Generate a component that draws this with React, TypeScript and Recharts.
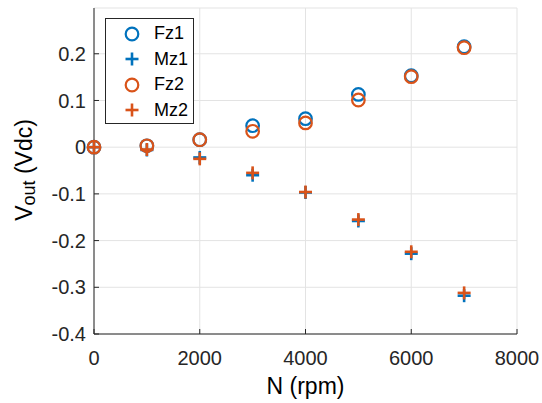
import React from "react";
import {
  ScatterChart,
  Scatter,
  XAxis,
  YAxis,
  CartesianGrid,
  Legend,
} from "recharts";

const rpm = [0, 1000, 2000, 3000, 4000, 5000, 6000, 7000];
const fz1 = [0, 0.003, 0.016, 0.046, 0.061, 0.113, 0.153, 0.215];
const mz1 = [0, -0.006, -0.022, -0.06, -0.097, -0.158, -0.228, -0.318];
const fz2 = [0, 0.003, 0.016, 0.034, 0.052, 0.101, 0.151, 0.213];
const mz2 = [0, -0.005, -0.025, -0.055, -0.096, -0.155, -0.224, -0.312];

const xTicks = [0, 2000, 4000, 6000, 8000];
const yTicks = [-0.4, -0.3, -0.2, -0.1, 0, 0.1, 0.2];

const BLUE = "#0072BD";
const ORANGE = "#D95319";
const AXIS = "#262626";
const FONT = "'Liberation Sans', Arial, Helvetica, sans-serif";

const toPoints = (ys: number[]) => rpm.map((x, i) => ({ x, y: ys[i] }));

// all axes share one domain, so binding series to the box axes keeps them drawn
const series = [
  { name: "Fz1", data: toPoints(fz1), color: BLUE, kind: "circle", xId: "top", yId: "main" },
  { name: "Mz1", data: toPoints(mz1), color: BLUE, kind: "plus", xId: "main", yId: "right" },
  { name: "Fz2", data: toPoints(fz2), color: ORANGE, kind: "circle", xId: "main", yId: "main" },
  { name: "Mz2", data: toPoints(mz2), color: ORANGE, kind: "plus", xId: "main", yId: "main" },
];

const Marker = ({ cx, cy, color, kind }: any) =>
  kind === "circle" ? (
    <circle cx={cx} cy={cy} r={6.3} fill="none" stroke={color} strokeWidth={2.2} />
  ) : (
    <g stroke={color} strokeWidth={2.6}>
      <line x1={cx - 6.5} y1={cy} x2={cx + 6.5} y2={cy} />
      <line x1={cx} y1={cy - 6.5} x2={cx} y2={cy + 6.5} />
    </g>
  );

const LegendBox = () => (
  <div
    style={{
      width: 89,
      height: 106,
      background: "#fff",
      border: `1px solid ${AXIS}`,
      boxSizing: "border-box",
      paddingTop: 2,
    }}
  >
    {series.map((s) => (
      <div
        key={s.name}
        style={{ display: "flex", alignItems: "center", height: 25.5 }}
      >
        <svg width={48} height={20} style={{ flex: "none" }}>
          <Marker cx={26} cy={10} color={s.color} kind={s.kind} />
        </svg>
        <span style={{ fontFamily: FONT, fontSize: 18, color: "#000" }}>
          {s.name}
        </span>
      </div>
    ))}
  </div>
);

const YLabel = ({ viewBox }: any) => {
  const cx = viewBox.x - 10;
  const cy = viewBox.y + viewBox.height / 2 - 1;
  return (
    <text
      x={cx}
      y={cy}
      transform={`rotate(-90, ${cx}, ${cy})`}
      textAnchor="middle"
      dominantBaseline="central"
      fontFamily={FONT}
      fontSize={23}
      fill="#000"
    >
      <tspan>V</tspan>
      <tspan fontSize={18} dy={5}>
        out
      </tspan>
      <tspan dy={-5}> (Vdc)</tspan>
    </text>
  );
};

const tickStyle = { fill: AXIS, fontSize: 20, fontFamily: FONT };
const NoTick = () => <g />;

export default function App() {
  return (
    <div style={{ position: "absolute", left: 0, top: 0, background: "#fff" }}>
      <ScatterChart
        width={542}
        height={403}
        margin={{ top: 8, right: 25, bottom: 0, left: 34 }}
      >
        <CartesianGrid stroke="#e3e3e3" strokeWidth={1} xAxisId="main" yAxisId="main" />
        <XAxis
          xAxisId="main"
          dataKey="x"
          type="number"
          domain={[0, 8000]}
          ticks={xTicks}
          height={69}
          stroke={AXIS}
          tickSize={-5}
          tickMargin={22}
          tick={tickStyle}
          label={{
            value: "N (rpm)",
            position: "insideBottom",
            offset: 9,
            style: { fontSize: 23, fontFamily: FONT, fill: "#000" },
          }}
        />
        <XAxis
          xAxisId="top"
          orientation="top"
          dataKey="x"
          type="number"
          domain={[0, 8000]}
          ticks={xTicks}
          height={0}
          stroke={AXIS}
          tickSize={-5}
          tick={<NoTick />}
        />
        <YAxis
          yAxisId="main"
          dataKey="y"
          type="number"
          domain={[-0.4, 0.298]}
          ticks={yTicks}
          width={60}
          stroke={AXIS}
          tickSize={-5}
          tickMargin={13}
          tick={tickStyle}
          label={<YLabel />}
        />
        <YAxis
          yAxisId="right"
          orientation="right"
          dataKey="y"
          type="number"
          domain={[-0.4, 0.298]}
          ticks={yTicks}
          width={0}
          stroke={AXIS}
          tickSize={-5}
          tick={<NoTick />}
        />
        <Legend
          layout="vertical"
          align="center"
          verticalAlign="middle"
          content={<LegendBox />}
          wrapperStyle={{ position: "absolute", left: 105, top: 18, width: 89 }}
        />
        {series.map((s) => (
          <Scatter
            key={s.name}
            name={s.name}
            data={s.data}
            xAxisId={s.xId}
            yAxisId={s.yId}
            fill={s.color}
            isAnimationActive={false}
            shape={(p: any) => (
              <Marker cx={p.cx} cy={p.cy} color={s.color} kind={s.kind} />
            )}
          />
        ))}
      </ScatterChart>
    </div>
  );
}
